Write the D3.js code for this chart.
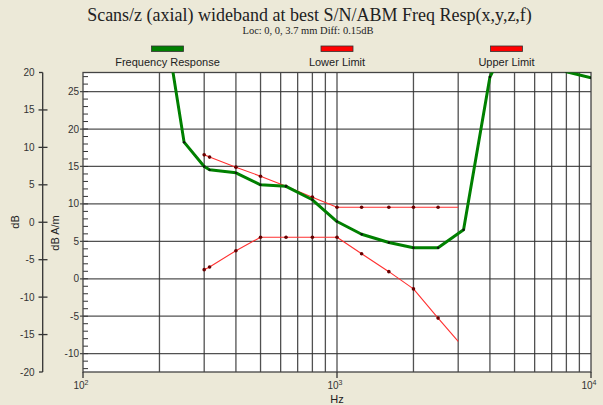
<!DOCTYPE html>
<html>
<head>
<meta charset="utf-8">
<script src="https://cdn.jsdelivr.net/npm/d3@7"></script>
<style>
  html, body { margin: 0; padding: 0; background: #ECE9D8; }
  svg { display: block; }
  .sans { font-family: "Liberation Sans", Arial, sans-serif; }
  .serif { font-family: "Liberation Serif", "Times New Roman", serif; }
</style>
</head>
<body>
<svg id="chart"></svg>
<script>
// frequency response, 1/3 octave points (dB)
const respFreqs = [200, 250, 300, 315, 400, 500, 630, 800, 1000, 1250, 1600, 2000, 2500, 3150, 4000, 5000, 6300, 8000, 10000];
const respValues = [31.4, 10.7, 7.45, 7.0, 6.6, 5.0, 4.8, 3.0, 0.1, -1.6, -2.7, -3.4, -3.4, -1.0, 19.4, 26, 25, 20.1, 19.3];

// limits
const limitFreqs = [300, 315, 400, 500, 630, 800, 1000, 1250, 1600, 2000, 2500, 3000];
const lowerLimit = [-6.33, -5.97, -3.8, -2.0, -2.0, -2.0, -2.0, -4.2, -6.6, -8.9, -12.8, -15.9];
const upperLimit = [9.0, 8.7, 7.36, 6.15, 4.8, 3.35, 2.0, 2.0, 2.0, 2.0, 2.0, 2.0];

const dbTicks = [-20, -15, -10, -5, 0, 5, 10, 15, 20];
const amTicks = [-10, -5, 0, 5, 10, 15, 20, 25];
const gridFreqs = [200, 300, 400, 500, 600, 700, 800, 900, 1000, 2000, 3000, 4000, 5000, 6000, 7000, 8000, 9000];
const decades = [{ f: 100, e: '2' }, { f: 1000, e: '3' }, { f: 10000, e: '4' }];
const legendItems = [
  { name: 'Frequency Response', color: '#008000' },
  { name: 'Lower Limit', color: '#ff0000' },
  { name: 'Upper Limit', color: '#ff0000' }
];
const amOffset = 7.55; // dB A/m = dB + offset

const width = 603, height = 405;
const plot = { left: 83, right: 591, top: 72.5, bottom: 372 };

const svg = d3.select('#chart').attr('width', width).attr('height', height);

const x = d3.scaleLog().domain([100, 10000]).range([plot.left, plot.right]);
const y = d3.scaleLinear().domain([-20, 20]).range([plot.bottom, plot.top]);
const yAm = d3.scaleLinear().domain([-20 + amOffset, 20 + amOffset]).range([plot.bottom, plot.top]);

svg.append('defs').append('clipPath').attr('id', 'clip')
  .append('rect')
    .attr('x', plot.left).attr('y', plot.top)
    .attr('width', plot.right - plot.left).attr('height', plot.bottom - plot.top);

// title
svg.append('text').attr('class', 'serif')
    .attr('x', 309.5).attr('y', 20.5)
    .attr('text-anchor', 'middle').attr('font-size', 18).attr('fill', '#222')
    .text('Scans/z (axial) wideband at best S/N/ABM Freq Resp(x,y,z,f)');
svg.append('text').attr('class', 'serif')
    .attr('x', 308).attr('y', 34)
    .attr('text-anchor', 'middle').attr('font-size', 10.5).attr('fill', '#222')
    .text('Loc: 0, 0, 3.7 mm Diff: 0.15dB');

// legend
const legend = svg.append('g').selectAll('g')
  .data(legendItems)
  .join('g')
    .attr('transform', (d, i) => `translate(${167.5 + i * 169.5},0)`);
legend.append('rect')
    .attr('x', -16).attr('y', 46).attr('width', 32).attr('height', 5.5)
    .attr('fill', d => d.color).attr('stroke', '#333').attr('stroke-width', 0.8);
legend.append('text').attr('class', 'sans')
    .attr('y', 65.5).attr('text-anchor', 'middle').attr('font-size', 11).attr('fill', '#222')
    .text(d => d.name);

// plot background
svg.append('rect')
    .attr('x', plot.left).attr('y', plot.top)
    .attr('width', plot.right - plot.left).attr('height', plot.bottom - plot.top)
    .attr('fill', '#fff');

// grid
const grid = svg.append('g').attr('stroke', '#333').attr('stroke-width', 1.3).attr('stroke-opacity', 0.85);
grid.selectAll('line.v')
  .data(gridFreqs)
  .join('line').attr('class', 'v')
    .attr('x1', d => x(d)).attr('x2', d => x(d))
    .attr('y1', plot.top).attr('y2', plot.bottom);
grid.selectAll('line.h')
  .data(amTicks)
  .join('line').attr('class', 'h')
    .attr('x1', plot.left - 3).attr('x2', plot.right)
    .attr('y1', d => yAm(d)).attr('y2', d => yAm(d));

// minor ticks on the left edge
svg.append('g').attr('stroke', '#333').attr('stroke-width', 1)
  .selectAll('line')
  .data(d3.range(-12, 28))
  .join('line')
    .attr('x1', plot.left).attr('x2', plot.left + 5)
    .attr('y1', d => yAm(d)).attr('y2', d => yAm(d));

// plot frame
svg.append('rect')
    .attr('x', plot.left).attr('y', plot.top)
    .attr('width', plot.right - plot.left).attr('height', plot.bottom - plot.top)
    .attr('fill', 'none').attr('stroke', '#444').attr('stroke-width', 1.3);

// inner axis labels (dB A/m)
svg.append('g').attr('class', 'sans')
  .selectAll('text')
  .data(amTicks)
  .join('text')
    .attr('x', 79).attr('y', d => yAm(d) + 3.5)
    .attr('text-anchor', 'end').attr('font-size', 10).attr('fill', '#333')
    .text(d => d);

// outer dB axis
const outer = svg.append('g').attr('stroke', '#333').attr('stroke-width', 1.3);
outer.append('line')
    .attr('x1', 42.7).attr('x2', 42.7).attr('y1', y(20)).attr('y2', y(-20));
outer.selectAll('line.t')
  .data(dbTicks)
  .join('line').attr('class', 't')
    .attr('x1', d => Math.abs(d) === 20 ? 39 : 38.5)
    .attr('x2', d => Math.abs(d) === 20 ? 42.7 : 47.5)
    .attr('y1', d => y(d)).attr('y2', d => y(d));
svg.append('g').attr('class', 'sans')
  .selectAll('text')
  .data(dbTicks)
  .join('text')
    .attr('x', 34.5).attr('y', d => y(d) + 3.5)
    .attr('text-anchor', 'end').attr('font-size', 10).attr('fill', '#333')
    .text(d => d);

svg.append('text').attr('class', 'sans')
    .attr('transform', 'translate(19,222) rotate(-90)')
    .attr('text-anchor', 'middle').attr('font-size', 11).attr('fill', '#222')
    .text('dB');
svg.append('text').attr('class', 'sans')
    .attr('transform', 'translate(59,233) rotate(-90)')
    .attr('text-anchor', 'middle').attr('font-size', 11).attr('fill', '#222')
    .text('dB A/m');

// x axis
svg.append('g').attr('stroke', '#333').attr('stroke-width', 1.3)
  .selectAll('line')
  .data(decades)
  .join('line')
    .attr('x1', d => x(d.f)).attr('x2', d => x(d.f))
    .attr('y1', plot.bottom).attr('y2', plot.bottom + 6);
const decLabels = svg.append('g').attr('class', 'sans')
  .selectAll('text')
  .data(decades)
  .join('text')
    .attr('x', d => x(d.f) - 2).attr('y', 389)
    .attr('text-anchor', 'middle').attr('font-size', 10).attr('fill', '#333');
decLabels.append('tspan').text('10');
decLabels.append('tspan').attr('dy', -4).attr('font-size', 7).text(d => d.e);
svg.append('text').attr('class', 'sans')
    .attr('x', x(1000)).attr('y', 402.5)
    .attr('text-anchor', 'middle').attr('font-size', 11).attr('fill', '#222')
    .text('Hz');

// data
const plotArea = svg.append('g').attr('clip-path', 'url(#clip)');
const line = d3.line().x(d => x(d[0])).y(d => y(d[1]));

function drawSeries(freqs, values, color, lw, dotted) {
  const pts = freqs.map((f, i) => [f, values[i]]);
  plotArea.append('path')
      .datum(pts)
      .attr('fill', 'none').attr('stroke', color)
      .attr('stroke-width', lw).attr('stroke-linejoin', 'round')
      .attr('d', line);
  plotArea.append('g')
    .selectAll('circle')
    .data(pts.slice(0, dotted))
    .join('circle')
      .attr('cx', d => x(d[0])).attr('cy', d => y(d[1]))
      .attr('r', color === '#008000' ? 1.2 : 1.8)
      .attr('fill', color === '#008000' ? '#111' : '#600');
}

drawSeries(limitFreqs, lowerLimit, '#ff3030', 1.1, limitFreqs.length - 1);
drawSeries(limitFreqs, upperLimit, '#ff3030', 1.1, limitFreqs.length - 1);
drawSeries(respFreqs, respValues, '#008000', 3, respFreqs.length);
</script>
</body>
</html>
